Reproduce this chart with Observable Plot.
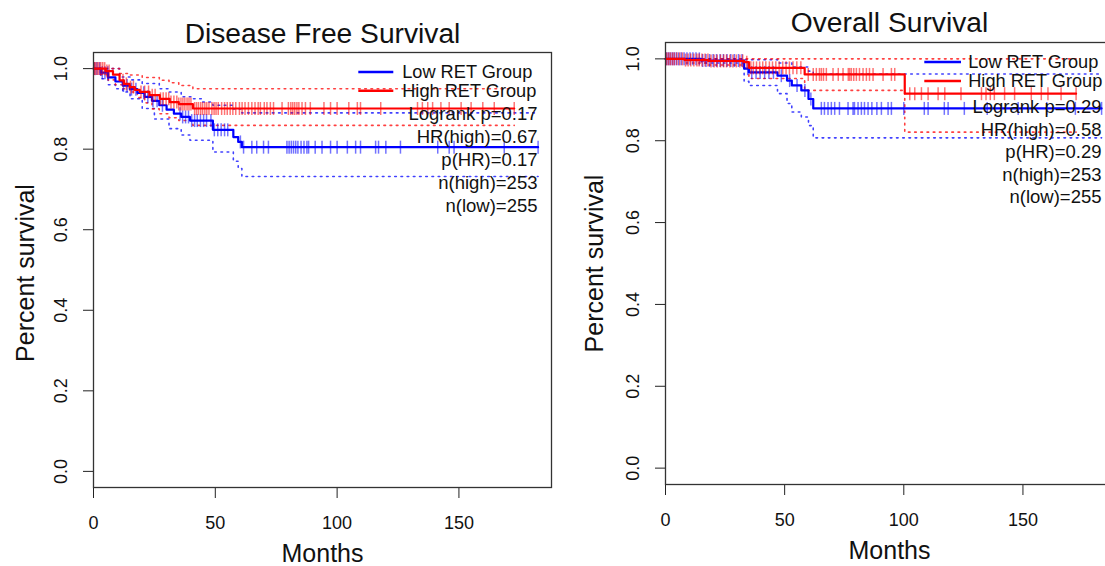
<!DOCTYPE html>
<html><head><meta charset="utf-8">
<script src="https://cdn.jsdelivr.net/npm/d3@7"></script>
<script src="https://cdn.jsdelivr.net/npm/@observablehq/plot@0.6"></script>
<style>
html,body{margin:0;padding:0;background:#fff;overflow:hidden;}
#wrap{position:relative;width:1105px;height:566px;overflow:hidden;background:#fff;}
.panel{position:absolute;top:0;width:560px;height:566px;}
.panel svg{max-width:none !important;}
</style></head><body>
<div id="wrap"><div id="p1" class="panel" style="left:0px"></div><div id="p2" class="panel" style="left:560px"></div></div>
<script>
// ---------- shared labels ----------
const xTicks = [0, 50, 100, 150];
const yTicks = [0, 0.2, 0.4, 0.6, 0.8, 1.0];
const legendLabels = ["Low RET Group", "High RET Group"];
const xLabel = "Months";
const yLabel = "Percent survival";

// ---------- Disease Free Survival ----------
const dfsTitle = "Disease Free Survival";
const dfsStats = ["Logrank p=0.17", "HR(high)=0.67", "p(HR)=0.17", "n(high)=253", "n(low)=255"];
// High RET (red) KM steps
const dfsHighT = [0, 5, 8, 10.7, 12.5, 14.8, 17, 19, 23, 27.2, 31.3, 35, 40.8, 172.7];
const dfsHighS = [1.0, 0.994, 0.985, 0.971, 0.962, 0.954, 0.947, 0.942, 0.934, 0.925, 0.917, 0.912, 0.901, 0.901];
const dfsHighUpT = [0, 5, 10.7, 15, 20, 27, 31, 35, 40.8, 172.7];
const dfsHighUpS = [1.0, 1.0, 0.988, 0.984, 0.978, 0.971, 0.965, 0.958, 0.95, 0.95];
const dfsHighLoT = [0, 3, 6, 9, 12, 14.8, 18, 21, 24, 27, 31, 35, 40.8, 172.7];
const dfsHighLoS = [1.0, 0.985, 0.972, 0.96, 0.95, 0.942, 0.928, 0.915, 0.9, 0.888, 0.878, 0.871, 0.859, 0.859];
const dfsHighCens = [0.3, 0.8, 1.5, 2.2, 3, 3.8, 4.6, 5.5, 6.4, 12.1, 13.5, 15.2, 16.4, 19.5, 21, 22.6, 24.1, 25.3,
  27.5, 28.6, 29.8, 30.9, 31.8, 33, 34.2, 35, 35.9, 36.7, 37.5, 38.4, 39.2, 40, 41.5, 42.3, 43.1, 44, 44.8, 45.7, 46.5,
  47.4, 48.6, 49.5, 50.3, 51.2, 52.6, 53.8, 54.9, 56.1, 57.2, 58.4, 59.9, 61, 62.2, 63.6, 65, 66.3, 67.6, 68.5, 70.1,
  71.2, 72.6, 73.9, 77.4, 80, 81, 81.8, 82.6, 83.5, 84.3, 85.6, 87, 89, 94.6, 97.3, 100, 104.8, 108.3, 109.6, 117.9,
  133, 135, 137.2, 139.2, 142.6, 146, 150.9, 155, 159.8, 164.5, 172.7];
// Low RET (blue) KM steps
const dfsLowT = [0, 3, 6, 9, 12, 15, 18, 21, 24, 27, 30, 33, 36, 39.6, 49, 57.4, 59.4, 60.9, 182.5];
const dfsLowS = [1.0, 0.99, 0.978, 0.968, 0.958, 0.949, 0.94, 0.93, 0.92, 0.909, 0.898, 0.888, 0.88, 0.871, 0.848, 0.83, 0.818, 0.805, 0.805];
const dfsLowUpT = [0, 5, 10.7, 15, 20, 27, 31, 36, 40, 44.8, 49, 57.4, 60.9, 182.5];
const dfsLowUpS = [1.0, 1.0, 0.979, 0.972, 0.963, 0.95, 0.942, 0.93, 0.925, 0.917, 0.909, 0.9, 0.89, 0.89];
const dfsLowLoT = [0, 3, 6, 9, 12, 15, 20, 25, 31, 36, 39.6, 49, 57.4, 59.4, 60.9, 182.5];
const dfsLowLoS = [1.0, 0.975, 0.96, 0.95, 0.942, 0.925, 0.901, 0.875, 0.851, 0.835, 0.822, 0.793, 0.77, 0.752, 0.732, 0.732];
const dfsLowCens = [0.5, 1.4, 2.5, 3.6, 4.7, 5.9, 12.3, 13.8, 15.6, 17.4, 20.6, 22.3, 24.4, 26.1, 28.3, 35.5, 36.6,
  37.8, 39, 40.3, 41.5, 42.6, 43.9, 45.2, 46.4, 48.2, 49.6, 51, 52.4, 53.8, 55.1, 60.3, 61.6, 65, 67, 69.8, 71.8, 79.4,
  80.3, 81.2, 82.1, 83, 83.9, 85.2, 86.4, 87.6, 88.3, 91, 93.8, 97.3, 100, 104.2, 107.6, 109.6, 115.8, 117, 120, 126,
  141.3, 146, 148, 168.6, 182.5];

// ---------- Overall Survival ----------
const osTitle = "Overall Survival";
const osStats = ["Logrank p=0.29", "HR(high)=0.58", "p(HR)=0.29", "n(high)=253", "n(low)=255"];
const osHighT = [0, 8, 18, 33, 35, 58.4, 100.4, 172.3];
const osHighS = [1.0, 0.997, 0.995, 0.992, 0.978, 0.962, 0.915, 0.915];
const osHighUpT = [0, 172.3];
const osHighUpS = [1.0, 1.0];
const osHighLoT = [0, 8, 18, 33, 35, 58.4, 100.4, 172.3];
const osHighLoS = [1.0, 0.99, 0.985, 0.978, 0.952, 0.923, 0.821, 0.821];
const osHighCens = [0.4, 1.2, 2, 2.9, 3.7, 4.8, 5.9, 7.1, 8.4, 9.5, 10.6, 11.9, 13.2, 14.1, 15.3, 16.6, 17.8, 19.1, 20.4,
  21.7, 23.1, 24.4, 25.6, 27, 28.3, 29.7, 31.2, 32.4, 34.1, 35.8, 36.9, 38.2, 39.5, 40.8, 42.1, 43.6, 44.9, 46.3, 47.7,
  49.2, 50.6, 52, 53.5, 55.1, 56.8, 59.9, 62, 63.3, 64.6, 65.4, 66.3, 67.5, 70.3, 72.5, 74.5, 76.7, 77.3, 78, 79, 80.1,
  81.4, 82.9, 84.3, 85.6, 87.1, 91.3, 94.8, 96.2, 102.5, 104.6, 107.4, 110.2, 114.4, 117.2, 124, 132.6, 134.5, 136.3,
  138, 142.3, 146.5, 153.5, 157.7, 160.5, 166, 172.3];
const osLowT = [0, 15, 33, 35, 47, 51, 53, 57, 60, 62, 183];
const osLowS = [1.0, 0.996, 0.976, 0.967, 0.959, 0.947, 0.935, 0.923, 0.902, 0.879, 0.879];
const osLowUpT = [0, 33, 47, 53, 60, 62, 183];
const osLowUpS = [1.0, 0.998, 0.99, 0.98, 0.97, 0.963, 0.963];
const osLowLoT = [0, 15, 33, 35, 47, 51, 53, 57, 60, 62, 183];
const osLowLoS = [1.0, 0.99, 0.945, 0.935, 0.915, 0.891, 0.87, 0.858, 0.837, 0.807, 0.807];
const osLowCens = [0.3, 1.1, 1.9, 2.8, 3.6, 4.5, 5.5, 6.6, 7.8, 9, 10.3, 11.5, 12.8, 14.2, 15.6, 17, 18.5, 20, 21.4, 22.9,
  24.3, 25.8, 27.4, 28.9, 30.6, 32.1, 34.5, 36.2, 38, 39.7, 41.6, 43.4, 45.3, 48.6, 52.1, 55.2, 58.5, 61, 65.4, 66.7,
  68.2, 69.6, 71, 73, 76.6, 78.7, 79.3, 80.8, 82.2, 83.5, 85, 86.6, 88.7, 90.6, 93.4, 94.8, 100, 108.6, 110.2, 117,
  118.6, 125.4, 135, 148, 160, 172, 183];

// ---------- styling ----------
const FONT = "'Liberation Sans', Arial, Helvetica, sans-serif";
const RED = "#ff0000", BLUE = "#0000ff", INK = "#111";

const vtick = {draw(ctx, size) { const h = Math.sqrt(size / Math.PI); ctx.moveTo(0, -h); ctx.lineTo(0, h); }};

function steps(T, S) { return T.map((t, i) => ({t, s: S[i]})); }
function stepAt(T, S, t) { let v = S[0]; for (let i = 0; i < T.length; i++) if (T[i] <= t) v = S[i]; return v; }
function cens(T, S, C) { return C.map(t => ({t, s: stepAt(T, S, t)})); }

function panel(cfg) {
  const g = cfg.geo;
  const curveMarks = [];
  const groups = [
    {T: cfg.lowT, S: cfg.lowS, UT: cfg.lowUpT, US: cfg.lowUpS, LT: cfg.lowLoT, LS: cfg.lowLoS, C: cfg.lowCens, col: BLUE},
    {T: cfg.highT, S: cfg.highS, UT: cfg.highUpT, US: cfg.highUpS, LT: cfg.highLoT, LS: cfg.highLoS, C: cfg.highCens, col: RED}
  ];
  for (const gr of groups) {
    for (const [T, S] of [[gr.UT, gr.US], [gr.LT, gr.LS]]) {
      curveMarks.push(Plot.line(steps(T, S), {x: "t", y: "s", curve: "step-after", stroke: gr.col,
        strokeWidth: 1.6, strokeDasharray: "1.6 4.6", strokeOpacity: 0.75}));
    }
  }
  for (const gr of groups) {
    curveMarks.push(Plot.dot(cens(gr.T, gr.S, gr.C), {x: "t", y: "s", symbol: vtick, r: 6.5, fill: "none",
      stroke: gr.col, strokeOpacity: 0.55, strokeWidth: 1.5}));
    curveMarks.push(Plot.line(steps(gr.T, gr.S), {x: "t", y: "s", curve: "step-after", stroke: gr.col, strokeWidth: 2.2}));
  }
  const textMarks = [];
  textMarks.push(Plot.text([cfg.title], {frameAnchor: "top", dy: g.titleDy, fontSize: 28.2, lineAnchor: "middle", fill: INK}));
  textMarks.push(Plot.text(xTicks, {x: d => d, frameAnchor: "bottom", dy: 36, fontSize: 18, lineAnchor: "middle", fill: INK}));
  textMarks.push(Plot.text(yTicks, {y: d => d, text: d => d.toFixed(1), frameAnchor: "left", dx: -32, rotate: -90,
    fontSize: 18, textAnchor: "middle", lineAnchor: "middle", fill: INK}));
  textMarks.push(Plot.text([xLabel], {frameAnchor: "bottom", dy: 66, fontSize: 25, lineAnchor: "middle", fill: INK}));
  textMarks.push(Plot.text([yLabel], {frameAnchor: "left", dx: g.ylabDx, dy: g.ylabDy, rotate: -90, fontSize: 25,
    textAnchor: "middle", lineAnchor: "middle", fill: INK}));
  legendLabels.forEach((lab, i) => {
    textMarks.push(Plot.text([lab], {frameAnchor: "top-right", dx: g.legTextDx, dy: g.legDy[i], fontSize: 18.2,
      textAnchor: "start", lineAnchor: "middle", fill: INK}));
  });
  cfg.stats.forEach((s, i) => {
    textMarks.push(Plot.text([s], {frameAnchor: "top-right", dx: g.statDx, dy: g.statDy + g.statStep * i, fontSize: 18.5,
      textAnchor: "end", lineAnchor: "middle", fill: INK}));
  });

  const svg = Plot.plot({
    width: 560, height: 566,
    marginLeft: g.ml, marginRight: g.mr, marginTop: g.mt, marginBottom: g.mb,
    x: {domain: [0, 188], ticks: xTicks, tickSize: 11, tickFormat: () => "", label: null},
    y: {domain: [-0.04, 1.04], ticks: yTicks, tickSize: 10, tickFormat: () => "", label: null},
    style: {fontFamily: FONT, color: "#222", background: "transparent", overflow: "visible", maxWidth: "none"},
    marks: [
      ...curveMarks,
      Plot.frame({stroke: "#333", strokeWidth: 1.3}),
      ...textMarks
    ]
  });
  svg.setAttribute("width", 560);
  svg.setAttribute("height", 566);
  svg.style.maxWidth = "none";
  svg.style.width = "560px";
  svg.style.height = "566px";
  // legend line keys
  const xs = svg.scale("x").range;
  const right = xs[1];
  const top = g.mt;
  const sel = d3.select(svg);
  [BLUE, RED].forEach((c, i) => {
    sel.append("line").attr("x1", right + g.legLine[0]).attr("x2", right + g.legLine[1])
      .attr("y1", top + g.legDy[i]).attr("y2", top + g.legDy[i])
      .attr("stroke", c).attr("stroke-width", 2.4);
  });
  return svg;
}

document.getElementById("p1").appendChild(panel({
  title: dfsTitle, stats: dfsStats,
  highT: dfsHighT, highS: dfsHighS, highUpT: dfsHighUpT, highUpS: dfsHighUpS, highLoT: dfsHighLoT, highLoS: dfsHighLoS, highCens: dfsHighCens,
  lowT: dfsLowT, lowS: dfsLowS, lowUpT: dfsLowUpT, lowUpS: dfsLowUpS, lowLoT: dfsLowLoT, lowLoS: dfsLowLoS, lowCens: dfsLowCens,
  geo: {ml: 93, mr: 9, mt: 52, mb: 79, titleDy: -19, ylabDx: -68, ylabDy: 3,
    legLine: [-192.7, -157.7], legTextDx: -149.3, legDy: [20, 38.8],
    statDx: -14, statDy: 62, statStep: 22.9}
}));
document.getElementById("p2").appendChild(panel({
  title: osTitle, stats: osStats,
  highT: osHighT, highS: osHighS, highUpT: osHighUpT, highUpS: osHighUpS, highLoT: osHighLoT, highLoS: osHighLoS, highCens: osHighCens,
  lowT: osLowT, lowS: osLowS, lowUpT: osLowUpT, lowUpS: osLowUpS, lowLoT: osLowLoT, lowLoS: osLowLoS, lowCens: osLowCens,
  geo: {ml: 105, mr: 7, mt: 42, mb: 82, titleDy: -20, ylabDx: -71, ylabDy: 0,
    legLine: [-188.7, -152], legTextDx: -145.3, legDy: [20, 39],
    statDx: -12, statDy: 64.7, statStep: 22.5}
}));
</script>
</body></html>
